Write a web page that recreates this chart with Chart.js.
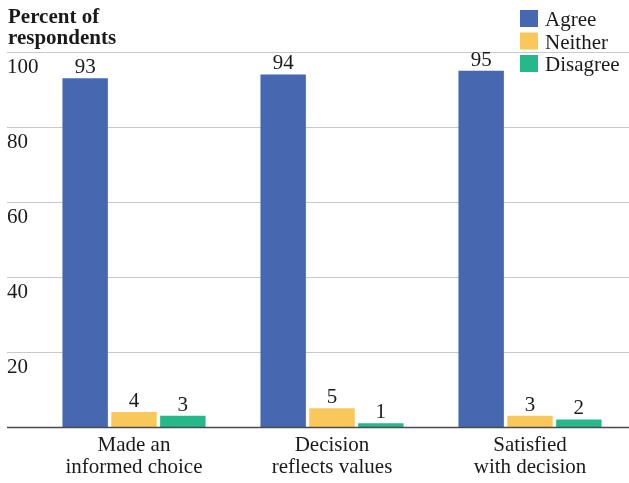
<!DOCTYPE html>
<html>
<head>
<meta charset="utf-8">
<script src="https://cdn.jsdelivr.net/npm/chart.js@4"></script>
<style>
  html, body { margin: 0; padding: 0; background: #fff; }
  #wrap { width: 629px; height: 483px; position: relative; }
</style>
</head>
<body>
<div id="wrap"><canvas id="chart"></canvas></div>
<script>
// categories, each label split into two lines
const categories = [
    ['Made an', 'informed choice'],
    ['Decision', 'reflects values'],
    ['Satisfied', 'with decision']
];
const agreeVals = [93, 94, 95];
const neitherVals = [4, 5, 3];
const disagreeVals = [3, 1, 2];
const yTicks = [20, 40, 60, 80, 100];
const titleLines = ['Percent of', 'respondents'];

const FONT = "'Liberation Serif', 'Times New Roman', serif";
const TEXT = '#1a1a1a';

// gridlines, y labels, axis line, title, value labels and legend
const decorPlugin = {
    id: 'decor',
    beforeDatasetsDraw(chart) {
        const { ctx } = chart;
        const y = chart.scales.y;
        ctx.save();
        ctx.strokeStyle = '#c9c9c9';
        ctx.lineWidth = 1;
        yTicks.forEach(v => {
            const py = Math.round(y.getPixelForValue(v)) + 0.5;
            ctx.beginPath();
            ctx.moveTo(7, py);
            ctx.lineTo(chart.width, py);
            ctx.stroke();
        });
        ctx.fillStyle = TEXT;
        ctx.font = `21px ${FONT}`;
        ctx.textAlign = 'left';
        ctx.textBaseline = 'alphabetic';
        yTicks.forEach(v => {
            ctx.fillText(String(v), 7, y.getPixelForValue(v) + 21);
        });
        ctx.font = `bold 21px ${FONT}`;
        titleLines.forEach((t, i) => ctx.fillText(t, 8, 23 + i * 21));
        ctx.restore();
    },
    afterDatasetsDraw(chart) {
        const { ctx } = chart;
        const y = chart.scales.y;
        ctx.save();
        const py = Math.round(y.getPixelForValue(0)) + 0.5;
        ctx.strokeStyle = '#4a4a4a';
        ctx.lineWidth = 1.5;
        ctx.beginPath();
        ctx.moveTo(7, py);
        ctx.lineTo(chart.width, py);
        ctx.stroke();

        ctx.fillStyle = TEXT;
        ctx.font = `21px ${FONT}`;
        ctx.textAlign = 'center';
        ctx.textBaseline = 'alphabetic';
        chart.data.datasets.forEach((ds, di) => {
            chart.getDatasetMeta(di).data.forEach((bar, i) => {
                ctx.fillText(String(ds.data[i]), bar.x, bar.y - 5);
            });
        });

        // legend
        ctx.textAlign = 'left';
        chart.data.datasets.forEach((ds, di) => {
            const top = 10 + di * 22.5;
            ctx.fillStyle = ds.backgroundColor;
            ctx.fillRect(520, top, 18, 17);
            ctx.fillStyle = TEXT;
            ctx.fillText(ds.label, 545, top + 16);
        });
        ctx.restore();
    }
};

new Chart(document.getElementById('chart'), {
    type: 'bar',
    data: {
        labels: categories,
        datasets: [
            { label: 'Agree', data: agreeVals, backgroundColor: '#4568b0' },
            { label: 'Neither', data: neitherVals, backgroundColor: '#fac85a' },
            { label: 'Disagree', data: disagreeVals, backgroundColor: '#25b98a' }
        ]
    },
    options: {
        responsive: true,
        maintainAspectRatio: false,
        animation: false,
        categoryPercentage: 0.74,
        barPercentage: 0.93,
        layout: { padding: { top: 52, left: 35, right: 0, bottom: 4 } },
        plugins: {
            legend: { display: false },
            tooltip: { enabled: false }
        },
        scales: {
            y: {
                display: false,
                min: 0,
                max: 100
            },
            x: {
                grid: { display: false },
                border: { display: false },
                ticks: {
                    color: TEXT,
                    padding: 0,
                    font: { family: FONT, size: 21, lineHeight: 1.05 }
                }
            }
        }
    },
    plugins: [decorPlugin]
});
</script>
</body>
</html>
